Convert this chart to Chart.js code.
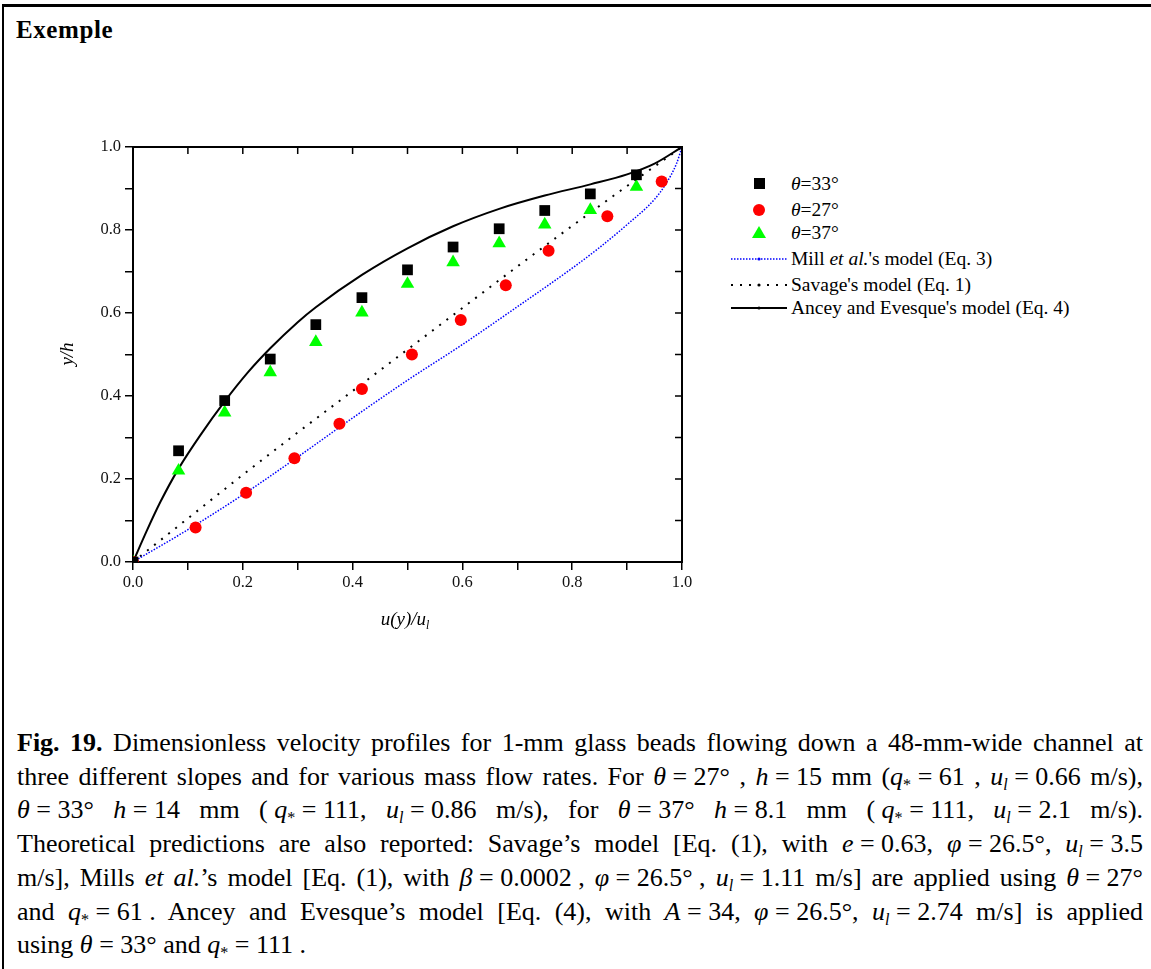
<!DOCTYPE html>
<html>
<head>
<meta charset="utf-8">
<script src="https://cdn.jsdelivr.net/npm/chart.js@4.4.1/dist/chart.umd.min.js"></script>
<style>
  body { margin: 0; background: #fff; color: #000; font-family: "Liberation Serif", "Times New Roman", serif; }
  #frame { position: absolute; left: 2px; top: 4px; width: 1200px; height: 1000px; border-top: 3px solid #000; border-left: 2px solid #000; }
  #title { position: absolute; left: 16px; top: 16px; font-size: 25px; font-weight: bold; letter-spacing: 0.6px; }
  #wrap { position: absolute; left: 0; top: 0; width: 720px; height: 640px; }
  .axt { position: absolute; font-size: 19px; font-style: italic; white-space: nowrap; }
  #ytitle { left: 47px; top: 343px; width: 40px; text-align: center; transform: rotate(-90deg); }
  #xtitle { left: 360px; top: 608px; width: 90px; text-align: center; }
  .row { position: absolute; left: 730px; height: 20px; width: 400px; }
  .row .tx { position: absolute; left: 61px; top: 0; line-height: 20px; font-size: 19.5px; white-space: nowrap; }
  .sq { position: absolute; left: 24px; top: 4px; width: 11px; height: 11px; background: #000; }
  .ci { position: absolute; left: 23px; top: 4px; width: 12px; height: 12px; border-radius: 50%; background: #f00; }
  .tr { position: absolute; left: 22px; top: 3px; width: 0; height: 0; border-left: 7px solid transparent; border-right: 7px solid transparent; border-bottom: 12px solid #00ff00; }
  .row svg { position: absolute; left: 1px; top: 0; }
  #caption { position: absolute; left: 17px; top: 726px; width: 1126px; font-size: 26px; line-height: 33.7px; }
  #caption .ln { text-align: justify; text-align-last: justify; white-space: nowrap; }
  #caption .last { text-align: left; text-align-last: left; }
  .eq { display: inline-block; }
  sub { font-size: 0.62em; vertical-align: -0.3em; line-height: 0; }
</style>
</head>
<body>
<div id="frame"></div>
<div id="title">Exemple</div>
<div id="wrap"><canvas id="chart"></canvas></div>
<div class="axt" id="ytitle">y/h</div>
<div class="axt" id="xtitle">u(y)/u<sub>l</sub></div>

<div class="row" style="top:174px"><span class="sq"></span><span class="tx"><i>θ</i>=33°</span></div>
<div class="row" style="top:200px"><span class="ci"></span><span class="tx"><i>θ</i>=27°</span></div>
<div class="row" style="top:223px"><span class="tr"></span><span class="tx"><i>θ</i>=37°</span></div>
<div class="row" style="top:249px">
  <svg width="56" height="20"><line x1="0" y1="10" x2="56" y2="10" stroke="#0000ff" stroke-width="1.5" stroke-dasharray="1.5,1.5"/><circle cx="28" cy="10" r="1.6" fill="#0000ff"/></svg>
  <span class="tx">Mill <i>et al.</i>'s model (Eq. 3)</span></div>
<div class="row" style="top:275px">
  <svg width="56" height="20"><line x1="0" y1="10" x2="56" y2="10" stroke="#000" stroke-width="2" stroke-dasharray="2,7"/><circle cx="28" cy="10" r="1.6" fill="#000"/></svg>
  <span class="tx">Savage's model (Eq. 1)</span></div>
<div class="row" style="top:298px">
  <svg width="56" height="20"><line x1="0" y1="10" x2="56" y2="10" stroke="#000" stroke-width="2"/><circle cx="28" cy="10" r="1.6" fill="#000"/></svg>
  <span class="tx">Ancey and Evesque's model (Eq. 4)</span></div>

<div id="caption">
  <div class="ln"><b>Fig. 19.</b> Dimensionless velocity profiles for 1-mm glass beads flowing down a 48-mm-wide channel at</div>
  <div class="ln">three different slopes and for various mass flow rates. For <span class="eq"><i>θ</i> = 27°</span> , <span class="eq"><i>h</i> = 15</span> mm <span class="eq">(<i>q</i><sub>*</sub> = 61</span> , <span class="eq"><i>u</i><sub><i>l</i></sub> = 0.66</span> m/s),</div>
  <div class="ln"><span class="eq"><i>θ</i> = 33°</span> <span class="eq"><i>h</i> = 14</span> mm <span class="eq">( <i>q</i><sub>*</sub> = 111,</span> <span class="eq"><i>u</i><sub><i>l</i></sub> = 0.86</span> m/s), for <span class="eq"><i>θ</i> = 37°</span> <span class="eq"><i>h</i> = 8.1</span> mm <span class="eq">( <i>q</i><sub>*</sub> = 111,</span> <span class="eq"><i>u</i><sub><i>l</i></sub> = 2.1</span> m/s).</div>
  <div class="ln">Theoretical predictions are also reported: Savage’s model [Eq. (1), with <span class="eq"><i>e</i> = 0.63,</span> <span class="eq"><i>φ</i> = 26.5°,</span> <span class="eq"><i>u</i><sub><i>l</i></sub> = 3.5</span></div>
  <div class="ln">m/s], Mills <i>et al.</i>’s model [Eq. (1), with <span class="eq"><i>β</i> = 0.0002 ,</span> <span class="eq"><i>φ</i> = 26.5° ,</span> <span class="eq"><i>u</i><sub><i>l</i></sub> = 1.11</span> m/s] are applied using <span class="eq"><i>θ</i> = 27°</span></div>
  <div class="ln">and <span class="eq"><i>q</i><sub>*</sub> = 61 .</span> Ancey and Evesque’s model [Eq. (4), with <span class="eq"><i>A</i> = 34,</span> <span class="eq"><i>φ</i> = 26.5°,</span> <span class="eq"><i>u</i><sub><i>l</i></sub> = 2.74</span> m/s] is applied</div>
  <div class="ln last">using <span class="eq"><i>θ</i> = 33°</span> and <span class="eq"><i>q</i><sub>*</sub> = 111 .</span></div>
</div>

<script>
// measured points, x = u(y)/u_l, y = y/h
const gridX = [0, 0.083, 0.167, 0.25, 0.333, 0.417, 0.5, 0.583, 0.667, 0.75, 0.833, 0.917];
const theta33Y = [0, 0.268, 0.389, 0.489, 0.572, 0.637, 0.704, 0.759, 0.803, 0.847, 0.887, 0.933];
const theta37Y = [0, 0.22, 0.36, 0.457, 0.53, 0.601, 0.67, 0.722, 0.768, 0.813, 0.848, 0.904];
const theta27X = [0, 0.114, 0.206, 0.294, 0.376, 0.417, 0.508, 0.597, 0.679, 0.757, 0.864, 0.963];
const theta27Y = [0, 0.083, 0.167, 0.25, 0.333, 0.417, 0.5, 0.583, 0.667, 0.75, 0.833, 0.917];

// model curves
const millX = [0, 0.1, 0.2, 0.3, 0.4, 0.5, 0.6, 0.7, 0.8, 0.85, 0.9, 0.95, 0.97, 0.99, 1.0];
const millY = [0, 0.078, 0.162, 0.253, 0.347, 0.438, 0.524, 0.615, 0.708, 0.758, 0.813, 0.874, 0.91, 0.96, 1.0];
const savageX = [0, 0.1, 0.2, 0.3, 0.4, 0.5, 0.6, 0.7, 0.8, 0.9, 1.0];
const savageY = [0, 0.105, 0.21, 0.312, 0.412, 0.512, 0.612, 0.712, 0.81, 0.906, 1.0];
const anceyX = [0, 0.025, 0.05, 0.083, 0.125, 0.167, 0.21, 0.25, 0.3, 0.333, 0.417, 0.5, 0.583, 0.667, 0.75, 0.833, 0.9, 0.95, 1.0];
const anceyY = [0, 0.075, 0.145, 0.225, 0.31, 0.387, 0.458, 0.515, 0.578, 0.614, 0.692, 0.756, 0.809, 0.851, 0.883, 0.91, 0.934, 0.96, 1.0];

const tickFont = { family: "Liberation Serif", size: 16.5 };

function pts(xs, ys) {
  return xs.map((x, i) => ({ x: x, y: ys[i] }));
}

function tickLabel(v) {
  return Math.round(v * 10) % 2 === 0 ? v.toFixed(1) : "";
}

// top and right axis lines with inward ticks
const framePlugin = {
  id: "frame",
  afterDatasetsDraw(chart) {
    const { ctx, chartArea: a, scales } = chart;
    ctx.save();
    ctx.strokeStyle = "#000";
    ctx.lineWidth = 2;
    ctx.beginPath();
    ctx.moveTo(a.left - 1, a.top);
    ctx.lineTo(a.right, a.top);
    ctx.lineTo(a.right, a.bottom + 1);
    ctx.stroke();
    ctx.lineWidth = 1.5;
    ctx.beginPath();
    scales.x.ticks.forEach(t => {
      const px = scales.x.getPixelForValue(t.value);
      ctx.moveTo(px, a.top);
      ctx.lineTo(px, a.top + 7);
    });
    scales.y.ticks.forEach(t => {
      const py = scales.y.getPixelForValue(t.value);
      ctx.moveTo(a.right, py);
      ctx.lineTo(a.right - 7, py);
    });
    ctx.stroke();
    ctx.restore();
  }
};

new Chart(document.getElementById("chart"), {
  type: "scatter",
  data: {
    datasets: [
      { label: "θ=33°", data: pts(gridX, theta33Y), pointStyle: "rect", pointRadius: 7.6, backgroundColor: "#000", borderWidth: 0, clip: 0 },
      { label: "θ=27°", data: pts(theta27X, theta27Y), pointStyle: "circle", pointRadius: 6, backgroundColor: "#ff0000", borderWidth: 0, clip: 0 },
      { label: "θ=37°", data: pts(gridX, theta37Y), pointStyle: "triangle", pointRadius: 7.8, backgroundColor: "#00ff00", borderWidth: 0, clip: 0 },
      { label: "Mill et al.'s model (Eq. 3)", type: "line", data: pts(millX, millY), borderColor: "#0000ff", borderWidth: 1.5, borderDash: [1.5, 1.5], pointRadius: 0, cubicInterpolationMode: "monotone", fill: false },
      { label: "Savage's model (Eq. 1)", type: "line", data: pts(savageX, savageY), borderColor: "#000", borderWidth: 2, borderDash: [2, 7], pointRadius: 0, cubicInterpolationMode: "monotone", fill: false },
      { label: "Ancey and Evesque's model (Eq. 4)", type: "line", data: pts(anceyX, anceyY), borderColor: "#000", borderWidth: 2, pointRadius: 0, cubicInterpolationMode: "monotone", fill: false }
    ]
  },
  options: {
    responsive: true,
    maintainAspectRatio: false,
    animation: false,
    layout: { padding: { left: 0, top: 147, right: 38, bottom: 0 } },
    plugins: { legend: { display: false }, tooltip: { enabled: false } },
    scales: {
      x: {
        type: "linear", min: 0, max: 1,
        ticks: { stepSize: 0.1, autoSkip: false, maxRotation: 0, color: "#111", font: tickFont, padding: 3, callback: tickLabel },
        grid: { drawOnChartArea: false, tickLength: 8, color: "#000", lineWidth: 1.5 },
        border: { color: "#000", width: 2 },
        afterFit: s => { s.height = 78; }
      },
      y: {
        type: "linear", min: 0, max: 1,
        ticks: { stepSize: 0.1, autoSkip: false, color: "#111", font: tickFont, padding: 4, callback: tickLabel },
        grid: { drawOnChartArea: false, tickLength: 8, color: "#000", lineWidth: 1.5 },
        border: { color: "#000", width: 2 },
        afterFit: s => { s.width = 133; }
      }
    }
  },
  plugins: [framePlugin]
});
</script>
</body>
</html>
